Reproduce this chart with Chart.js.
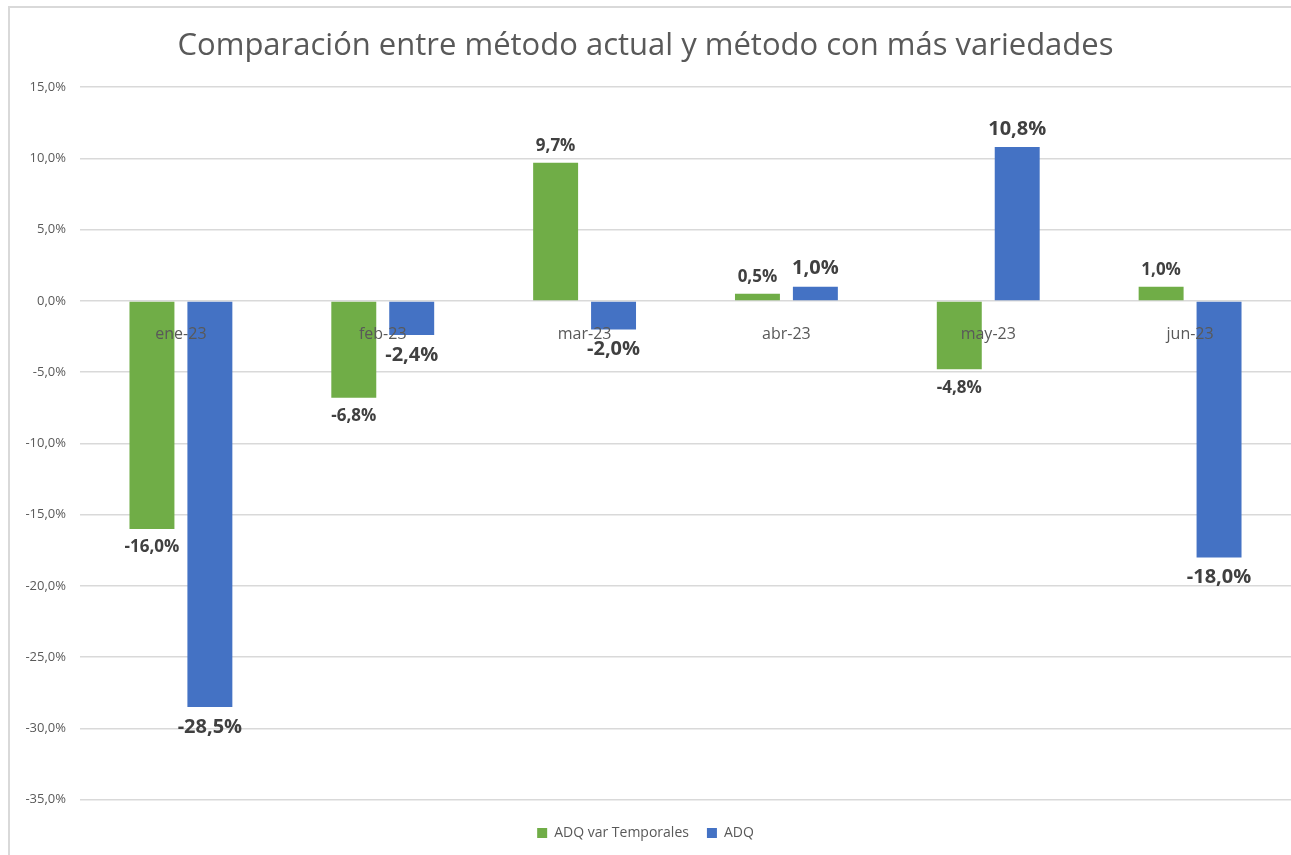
<!DOCTYPE html>
<html>
<head>
<meta charset="utf-8">
<script src="https://cdn.jsdelivr.net/npm/chart.js@4.4.0/dist/chart.umd.min.js"></script>
<style>
  html, body { margin: 0; padding: 0; background: #fff; }
  #wrap { position: relative; width: 1291px; height: 855px; }
</style>
</head>
<body>
<div id="wrap"><canvas id="chart" width="1291" height="855"></canvas></div>
<script>
// Chart data
const months = ['ene-23', 'feb-23', 'mar-23', 'abr-23', 'may-23', 'jun-23'];
const adqVarTemporales = [-16.0, -6.8, 9.7, 0.5, -4.8, 1.0];
const adq = [-28.5, -2.4, -2.0, 1.0, 10.8, -18.0];
const seriesNames = ['ADQ var Temporales', 'ADQ'];

const fmt = v => v.toFixed(1).replace('.', ',') + '%';

// Frame around the chart, like the spreadsheet export
const framePlugin = {
    id: 'frame',
    beforeDraw(chart) {
        const ctx = chart.ctx;
        ctx.save();
        ctx.fillStyle = '#fff';
        ctx.fillRect(0, 0, chart.width, chart.height);
        ctx.strokeStyle = '#d9d9d9';
        ctx.lineWidth = 2;
        ctx.strokeRect(9, 7, chart.width + 10, chart.height + 10);
        ctx.restore();
    }
};

// Value labels at the end of each bar
const labelPlugin = {
    id: 'barLabels',
    afterDatasetsDraw(chart) {
        const ctx = chart.ctx;
        ctx.save();
        ctx.fillStyle = '#404040';
        ctx.textAlign = 'center';
        chart.data.datasets.forEach((ds, i) => {
            const meta = chart.getDatasetMeta(i);
            const size = i === 0 ? 17 : 20;
            ctx.font = 'bold ' + size + 'px "Open Sans", sans-serif';
            meta.data.forEach((bar, j) => {
                const v = ds.data[j];
                if (v >= 0) {
                    ctx.textBaseline = 'bottom';
                    ctx.fillText(fmt(v), bar.x, bar.y - 8);
                } else {
                    ctx.textBaseline = 'top';
                    ctx.fillText(fmt(v), bar.x, bar.y + 10);
                }
            });
        });
        ctx.restore();
    }
};

const ctx = document.getElementById('chart').getContext('2d');
new Chart(ctx, {
    type: 'bar',
    data: {
        labels: months,
        datasets: [{
            label: seriesNames[0],
            data: adqVarTemporales,
            backgroundColor: '#70AD47',
            categoryPercentage: 0.574,
            barPercentage: 0.776
        },
        {
            label: seriesNames[1],
            data: adq,
            backgroundColor: '#4472C4',
            categoryPercentage: 0.574,
            barPercentage: 0.776
        }]
    },
    plugins: [framePlugin, labelPlugin],
    options: {
        responsive: false,
        animation: false,
        layout: { padding: { top: 20, right: 0, bottom: 5, left: 0 } },
        plugins: {
            title: {
                display: true,
                text: 'Comparación entre método actual y método con más variedades',
                color: '#595959',
                font: { family: '"Open Sans", sans-serif', size: 31, weight: 'normal' },
                padding: { top: 8, bottom: 22 }
            },
            legend: {
                position: 'bottom',
                title: { display: true, text: '', padding: 0, font: { size: 7 } },
                labels: {
                    color: '#595959',
                    font: { family: '"Open Sans", sans-serif', size: 14 },
                    boxWidth: 10,
                    boxHeight: 10,
                    padding: 18
                }
            },
            tooltip: { enabled: false }
        },
        scales: {
            x: {
                position: { y: 0 },
                grid: { display: false },
                border: { display: false },
                ticks: {
                    z: 1,
                    color: '#595959',
                    font: { family: '"Open Sans", sans-serif', size: 16 },
                    padding: 16
                }
            },
            y: {
                min: -35,
                max: 15,
                afterFit(scale) { scale.width = 80; },
                grid: { color: '#d9d9d9', lineWidth: 1.5, drawTicks: false },
                border: { display: false },
                ticks: {
                    stepSize: 5,
                    color: '#595959',
                    padding: 14,
                    font: { family: '"Open Sans", sans-serif', size: 13 },
                    callback: v => fmt(v)
                }
            }
        }
    }
});
</script>
</body>
</html>
